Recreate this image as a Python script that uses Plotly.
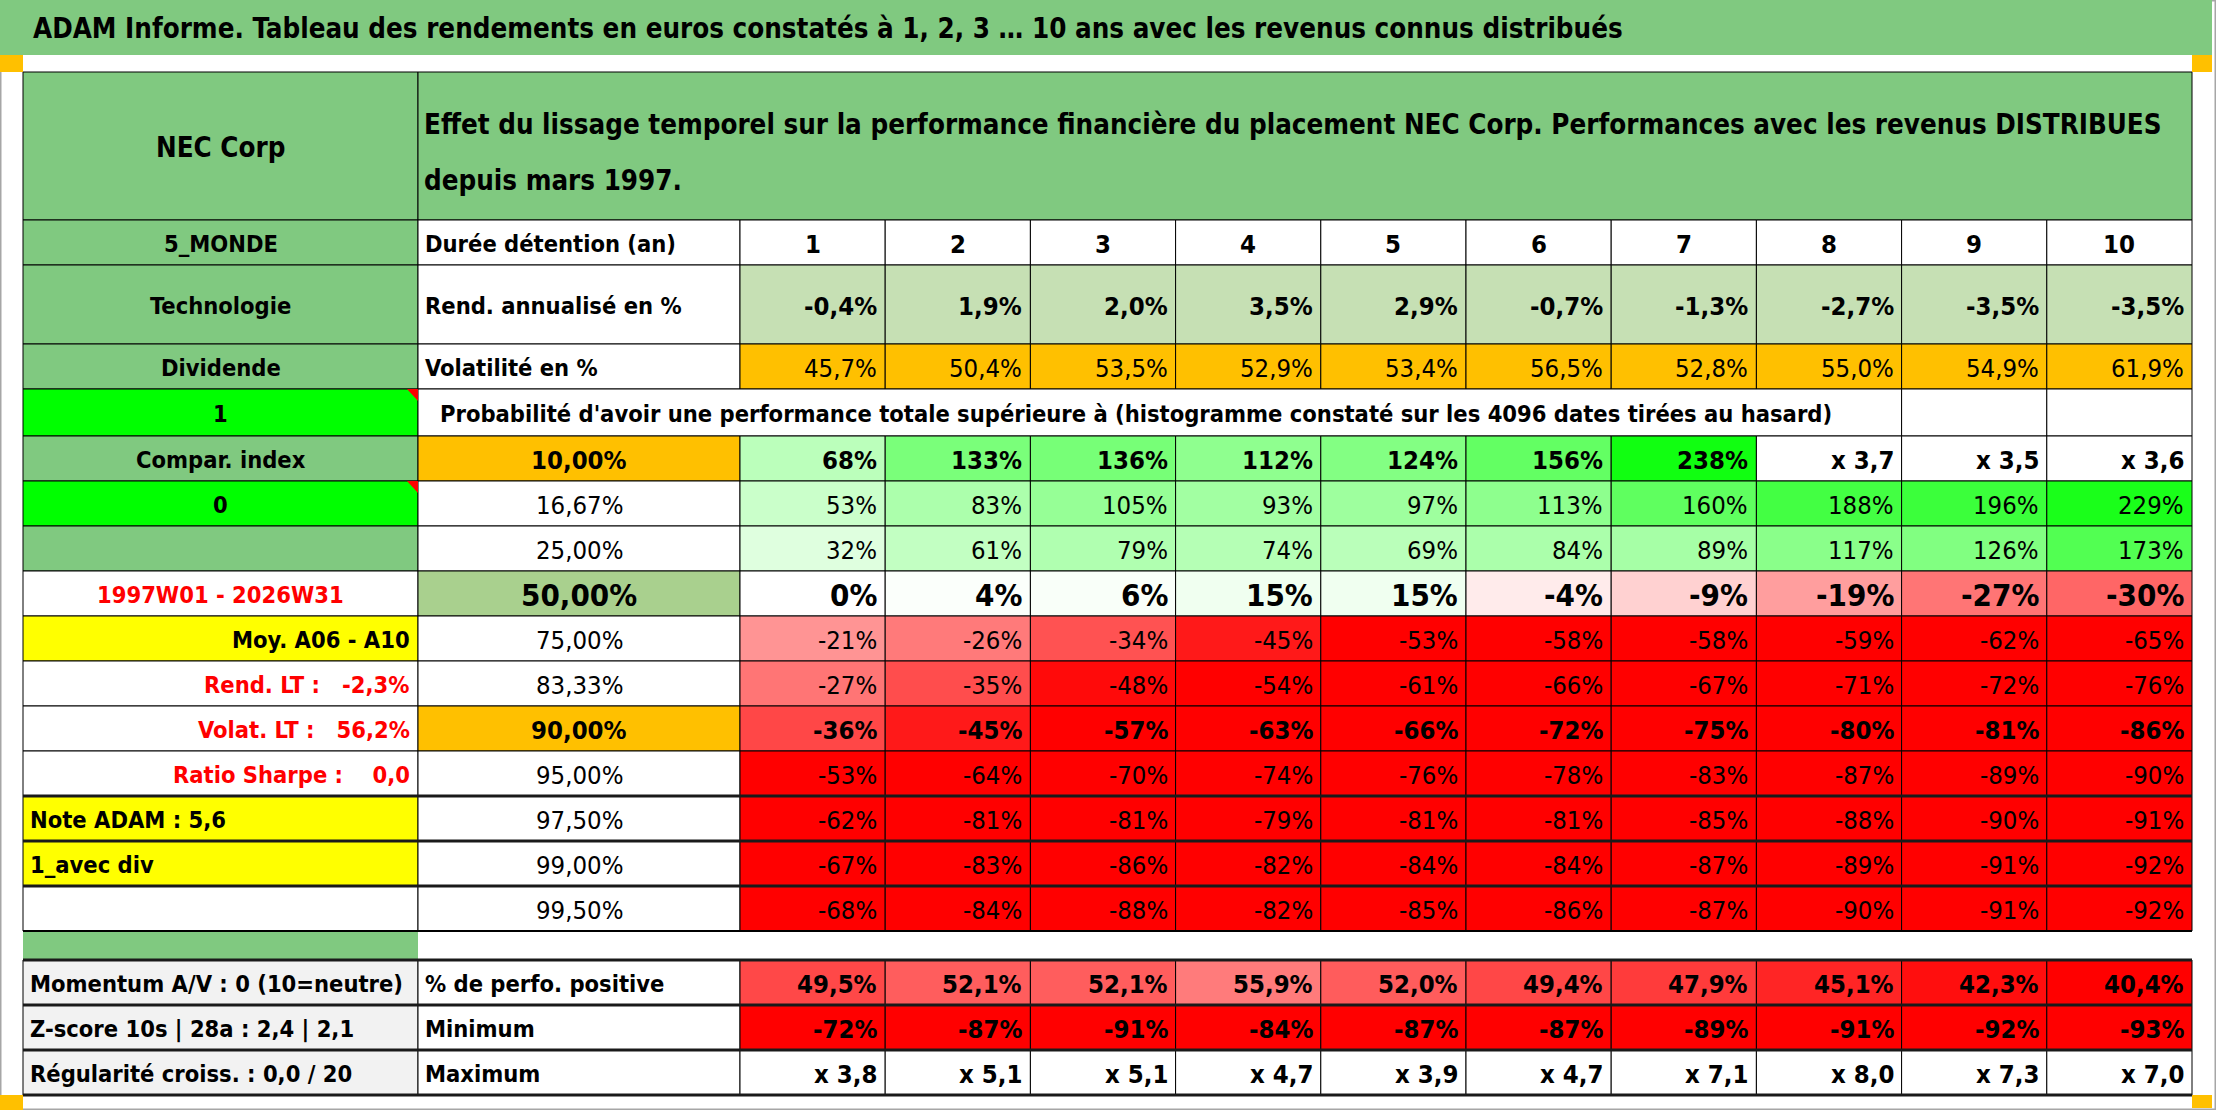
"""ADAM Informe - tableau des rendements NEC Corp, redessiné en Plotly."""

import plotly.graph_objects as go

W, H = 2216, 1110
FONT = "DejaVu Sans Condensed, Liberation Sans Narrow, sans-serif"

titre = ("ADAM Informe. Tableau des rendements en euros constatés à 1, 2, 3 … 10 ans "
         "avec les revenus connus distribués")
entete = ["Effet du lissage temporel sur la performance financière du placement NEC Corp. "
          "Performances avec les revenus DISTRIBUES",
          "depuis mars 1997."]
proba_texte = ("Probabilité d'avoir une performance totale supérieure à (histogramme constaté "
               "sur les 4096 dates tirées au hasard)")

durees = [1, 2, 3, 4, 5, 6, 7, 8, 9, 10]
rend_annualise = [-0.4, 1.9, 2.0, 3.5, 2.9, -0.7, -1.3, -2.7, -3.5, -3.5]
volatilite = [45.7, 50.4, 53.5, 52.9, 53.4, 56.5, 52.8, 55.0, 54.9, 61.9]

quantiles = [10.00, 16.67, 25.00, 50.00, 75.00, 83.33, 90.00, 95.00, 97.50, 99.00, 99.50]
# gains en % ; au-delà de 250 % le tableau affiche le multiplicateur (x 3,7 = +270 %)
perf = [
    [68, 133, 136, 112, 124, 156, 238, 270, 250, 260],
    [53, 83, 105, 93, 97, 113, 160, 188, 196, 229],
    [32, 61, 79, 74, 69, 84, 89, 117, 126, 173],
    [0, 4, 6, 15, 15, -4, -9, -19, -27, -30],
    [-21, -26, -34, -45, -53, -58, -58, -59, -62, -65],
    [-27, -35, -48, -54, -61, -66, -67, -71, -72, -76],
    [-36, -45, -57, -63, -66, -72, -75, -80, -81, -86],
    [-53, -64, -70, -74, -76, -78, -83, -87, -89, -90],
    [-62, -81, -81, -79, -81, -81, -85, -88, -90, -91],
    [-67, -83, -86, -82, -84, -84, -87, -89, -91, -92],
    [-68, -84, -88, -82, -85, -86, -87, -90, -91, -92],
]
perfo_positive = [49.5, 52.1, 52.1, 55.9, 52.0, 49.4, 47.9, 45.1, 42.3, 40.4]
minimum = [-72, -87, -91, -84, -87, -87, -89, -91, -92, -93]
maximum = [3.8, 5.1, 5.1, 4.7, 3.9, 4.7, 7.1, 8.0, 7.3, 7.0]

labels_a = ["NEC Corp", "5_MONDE", "Technologie", "Dividende", "1", "Compar. index", "0", "",
            "1997W01 - 2026W31", "Moy. A06 - A10", "Rend. LT :   -2,3%", "Volat. LT :   56,2%",
            "Ratio Sharpe :    0,0", "Note ADAM : 5,6", "1_avec div", "", "",
            "Momentum A/V : 0 (10=neutre)", "Z-score 10s | 28a : 2,4 | 2,1",
            "Régularité croiss. : 0,0 / 20"]
labels_b = {1: "Durée détention (an)", 2: "Rend. annualisé en %", 3: "Volatilité en %",
            17: "% de perfo. positive", 18: "Minimum", 19: "Maximum"}

# ---- mise en page (pixels) -------------------------------------------------
GREEN = "#80C980"
LIME = "#00FF00"
YELLOW = "#FFFF00"
ORANGE = "#FFC000"
GREY = "#F2F2F2"
RED_TXT = "#FF0000"

x_left, x_a, x_b = 23, 418, 740
col_w = 145.2
x_edges = [x_left, x_a, x_b] + [x_b + col_w * (i + 1) for i in range(10)]
row_h = [148, 45, 79, 45, 47] + [45] * 11 + [29, 45, 45, 45]
y_edges = [72]
for h in row_h:
    y_edges.append(y_edges[-1] + h)

fill_a = [GREEN, GREEN, GREEN, GREEN, LIME, GREEN, LIME, GREEN, "white", YELLOW,
          "white", "white", "white", YELLOW, YELLOW, "white", GREEN, GREY, GREY, GREY]
color_a = ["black"] * 20
for r in (8, 10, 11, 12):
    color_a[r] = RED_TXT
align_a = ["center"] * 9 + ["right"] * 4 + ["left"] * 7

BASE = 23.5     # libellés
NUM = 25.5      # valeurs chiffrées
BIG = 27.5      # titre / en-tête
MEDIAN = 31     # ligne 50 %


def fr(v, d=0):
    return f"{v:.{d}f}".replace(".", ",")


def fmt_perf(v):
    if v >= 250:
        return "x " + fr(1 + v / 100, 1)
    return fr(v) + "%"


def perf_color(v):
    if v >= 250:
        return "white"
    if v >= 0:
        t = min(v / 255, 1)
        c = round(255 * (1 - t))
        return f"rgb({c},255,{c})"
    t = min(-v / 50, 1)
    c = round(255 * (1 - t))
    return f"rgb(255,{c},{c})"


def pos_color(v):
    t = min(max((56.5 - v) / 16, 0), 1)
    c = round(128 * (1 - t))
    return f"rgb(255,{c},{c})"


shapes = []
annotations = []


def rect(x0, y0, x1, y1, fill, lw=1, lc="black"):
    shapes.append(dict(type="rect", xref="x", yref="y", x0=x0, y0=y0, x1=x1, y1=y1,
                       fillcolor=fill, line=dict(width=lw, color=lc), layer="below"))


def hline(y, x0, x1, lw, lc="black"):
    shapes.append(dict(type="line", xref="x", yref="y", x0=x0, x1=x1, y0=y, y1=y,
                       line=dict(width=lw, color=lc)))


def text(x, y, s, anchor="center", bold=False, size=BASE, color="black", yshift=-1):
    if bold:
        s = f"<b>{s}</b>"
    annotations.append(dict(x=x, y=y, xref="x", yref="y", text=s.replace("  ", "\u00a0\u00a0"),
                            showarrow=False, xanchor=anchor, yanchor="middle", yshift=yshift,
                            font=dict(size=size, color=color, family=FONT)))


def cell(r, c0, c1, fill, s="", anchor="right", bold=False, size=BASE, color="black", lw=1):
    x0, x1 = x_edges[c0], x_edges[c1]
    y0, y1 = y_edges[r], y_edges[r + 1]
    rect(x0, y0, x1, y1, fill, lw)
    if s != "":
        pos = {"left": x0 + 5, "right": x1 - 6, "center": (x0 + x1) / 2}[anchor]
        text(pos, (y0 + y1) / 2, s, anchor, bold, size, color)


# cadre de l'image, bandeau titre, petits carrés orange
rect(0, 0, W, H, "white", 3, "#A6A6A6")
rect(0, 0, W - 4, 55, GREEN, 0)
text(31, 28, titre, "left", True, BIG, yshift=0)
for x0, y0, x1, y1 in [(0, 55, 23, 72), (2192, 55, 2212, 72), (0, 1095, 23, 1110), (2192, 1095, 2212, 1108)]:
    rect(x0, y0, x1, y1, ORANGE, 0)

# colonne A
for r, lab in enumerate(labels_a):
    if r == 16:
        rect(x_edges[0], y_edges[r], x_edges[1], y_edges[r + 1], GREEN, 0)
        continue
    size = BIG if r == 0 else BASE
    cell(r, 0, 1, fill_a[r], lab, align_a[r], True, size, color_a[r])

# en-tête fusionné
rect(x_edges[1], y_edges[0], x_edges[-1], y_edges[1], GREEN)
text(x_edges[1] + 4, 124, entete[0], "left", True, BIG, yshift=0)
text(x_edges[1] + 4, 180, entete[1], "left", True, BIG, yshift=0)

# lignes descriptives
for r, lab in labels_b.items():
    cell(r, 1, 2, "white", lab, "left", True)

for i in range(10):
    c = 2 + i
    cell(1, c, c + 1, "white", str(durees[i]), "center", True, NUM)
    cell(2, c, c + 1, "#C6E0B4", fr(rend_annualise[i], 1) + "%", "right", True, NUM)
    cell(3, c, c + 1, ORANGE, fr(volatilite[i], 1) + "%", "right", False, NUM)

# ligne probabilité
rect(x_edges[1], y_edges[4], x_edges[10], y_edges[5], "white")
text(x_edges[1] + 20, (y_edges[4] + y_edges[5]) / 2, proba_texte, "left", True, BASE)
cell(4, 10, 11, "white")
cell(4, 11, 12, "white")

# quantiles
for k, q in enumerate(quantiles):
    r = 5 + k
    bold = q in (10.00, 50.00, 90.00)
    size = MEDIAN if q == 50.00 else NUM
    fill_b = ORANGE if q in (10.00, 90.00) else ("#A9D08E" if q == 50.00 else "white")
    cell(r, 1, 2, fill_b, fr(q, 2) + "%", "center", bold, size)
    for i, v in enumerate(perf[k]):
        cell(r, 2 + i, 3 + i, perf_color(v), fmt_perf(v), "right", bold, size)

# séparateur
hline(y_edges[16], x_edges[0], x_edges[-1], 2)

# bas du tableau
for i in range(10):
    c = 2 + i
    cell(17, c, c + 1, pos_color(perfo_positive[i]), fr(perfo_positive[i], 1) + "%", "right", True, NUM)
    cell(18, c, c + 1, perf_color(minimum[i]), fr(minimum[i]) + "%", "right", True, NUM)
    cell(19, c, c + 1, "white", "x " + fr(maximum[i], 1), "right", True, NUM)

# traits épais
for r in (13, 14, 15):
    hline(y_edges[r], x_edges[0], x_edges[-1], 3, "#1A1A1A")
for r in (17, 18, 19, 20):
    hline(y_edges[r], x_edges[0], x_edges[-1], 3, "#1A1A1A")

# indicateurs de commentaire (triangles rouges)
for r in (4, 6):
    xa, ya = x_edges[1], y_edges[r]
    shapes.append(dict(type="path", xref="x", yref="y",
                       path=f"M {xa - 11},{ya} L {xa},{ya} L {xa},{ya + 12} Z",
                       fillcolor="#FF0000", line=dict(width=0)))

fig = go.Figure()
fig.update_layout(
    width=W, height=H,
    margin=dict(l=0, r=0, t=0, b=0),
    paper_bgcolor="white", plot_bgcolor="white",
    xaxis=dict(range=[0, W], visible=False, fixedrange=True),
    yaxis=dict(range=[H, 0], visible=False, fixedrange=True),
    shapes=shapes, annotations=annotations,
    font=dict(family=FONT),
    showlegend=False,
)
fig.write_html("out.html", config={"displayModeBar": False},
               post_script="document.body.style.margin='0';document.body.style.overflow='hidden';")
